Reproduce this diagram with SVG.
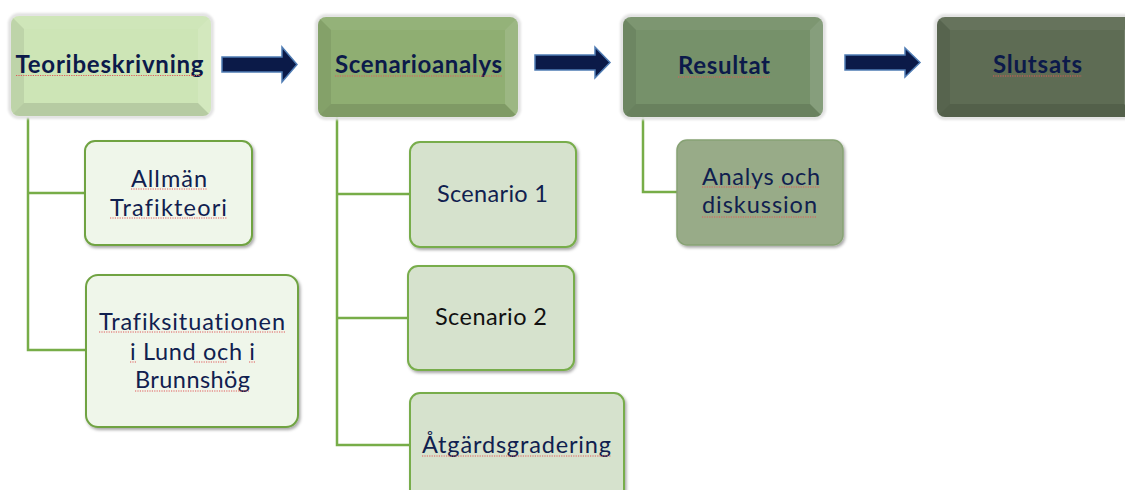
<svg xmlns="http://www.w3.org/2000/svg" xmlns:xlink="http://www.w3.org/1999/xlink" width="1125" height="490" viewBox="0 0 1125 490">
<style>
.t{font-family:Lato,"Liberation Sans",sans-serif;font-weight:bold;font-size:24px;fill:#0c1a4a;text-anchor:middle;font-variant-ligatures:none}
.c{font-family:Lato,"Liberation Sans",sans-serif;font-size:23.5px;fill:#10204f;text-anchor:middle;font-variant-ligatures:none}
.blk{fill:#111}
.conn{fill:none;stroke:#77ad48;stroke-width:2.5}
.arrow{fill:#0b1a48;stroke:#4f7cb4;stroke-width:1.5}
.sq{fill:none;stroke:#e05a5a;stroke-width:1.2;stroke-dasharray:1.2 1.2}
.b1{fill:#eff6ea;stroke:#70a343;stroke-width:2}
.b2{fill:#d6e2cd;stroke:#78ad4c;stroke-width:2}
.b3{fill:#98ab88;stroke:#87a274;stroke-width:1.5}
</style>
<defs>
<filter id="sh" x="-10%" y="-10%" width="125%" height="130%">
<feDropShadow dx="1.5" dy="2" stdDeviation="1.5" flood-color="#000" flood-opacity="0.35"/>
</filter>
<filter id="gl" x="-10%" y="-10%" width="120%" height="130%">
<feGaussianBlur stdDeviation="1.2"/>
</filter>
<clipPath id="bclip"><rect width="200" height="100" rx="8"/></clipPath>
<symbol id="bevel" viewBox="0 0 200 100" width="200" height="100" overflow="visible">
<rect x="-1" y="-1" width="202" height="102" rx="9" fill="none" stroke="#e2e2e2" stroke-width="4" filter="url(#gl)"/>
<g clip-path="url(#bclip)">
<rect width="200" height="100"/>
<polygon points="0,0 13,13 13,87 0,100" fill="#000" opacity="0.07"/>
<polygon points="0,100 13,87 187,87 200,100" fill="#000" opacity="0.11"/>
<polygon points="0,0 200,0 187,13 13,13" fill="#fff" opacity="0.05"/>
<polygon points="200,0 200,100 187,87 187,13" fill="#fff" opacity="0.12"/>
</g>
</symbol>
</defs>
<rect width="1125" height="490" fill="#fff"/>

<g id="connectors">
<polyline class="conn" points="28,117 28,350 86,350"/>
<line class="conn" x1="28" y1="193" x2="85" y2="193"/>
<polyline class="conn" points="337,117 337,445 410,445"/>
<line class="conn" x1="337" y1="194" x2="410" y2="194"/>
<line class="conn" x1="337" y1="318" x2="408" y2="318"/>
<polyline class="conn" points="643,117 643,192 677,192"/>
<polygon class="arrow" points="222,57 282,57 282,47 297,64.5 282,82 282,72 222,72"/>
<polygon class="arrow" points="535,55 595,55 595,47 610,62.5 595,78 595,70 535,70"/>
<polygon class="arrow" points="845,55 905,55 905,48 920,62.5 905,77 905,70 845,70"/>
</g>

<g id="teoribeskrivning">
<use xlink:href="#bevel" href="#bevel" x="11" y="16" fill="#cde5b6"/>
<text class="t" x="109.5" y="73" textLength="188" lengthAdjust="spacing">Teoribeskrivning</text>
<path class="sq" d="M16,75.5H203"/>
</g>
<g id="scenarioanalys">
<use xlink:href="#bevel" href="#bevel" x="318" y="17" fill="#8fae72"/>
<text class="t" x="418.5" y="73" textLength="167" lengthAdjust="spacing">Scenarioanalys</text>
<path class="sq" d="M335,76H502"/>
</g>
<g id="resultat">
<use xlink:href="#bevel" href="#bevel" x="623" y="17" fill="#76916a"/>
<text class="t" x="724" y="74" textLength="92" lengthAdjust="spacing">Resultat</text>
<path class="sq" d="M678,77H770"/>
</g>
<g id="slutsats">
<use xlink:href="#bevel" href="#bevel" x="937" y="17" fill="#5e6c54"/>
<text class="t" x="1037.5" y="73" textLength="89" lengthAdjust="spacing">Slutsats</text>
<path class="sq" d="M993,76H1082"/>
</g>

<g id="allman">
<rect class="b1" x="85" y="141" width="167" height="104" rx="10" filter="url(#sh)"/>
<text class="c" x="169" y="187" textLength="76" lengthAdjust="spacing">Allmän</text>
<text class="c" x="168.5" y="216" textLength="117" lengthAdjust="spacing">Trafikteori</text>
<path class="sq" d="M131,189H207M110,218H227"/>
</g>
<g id="trafiksituationen">
<rect class="b1" x="86" y="275" width="212" height="152" rx="12" filter="url(#sh)"/>
<text class="c" x="192" y="330" textLength="186" lengthAdjust="spacing">Trafiksituationen</text>
<text class="c" x="192.5" y="360" textLength="125" lengthAdjust="spacing">i Lund och i</text>
<text class="c" x="192.5" y="388" textLength="115" lengthAdjust="spacing">Brunnshög</text>
<path class="sq" d="M99,332H285M130,362H137M194,362H227M249,362H255M135,391H250"/>
</g>
<g id="scenario1">
<rect class="b2" x="410" y="142" width="166" height="105" rx="10" filter="url(#sh)"/>
<text class="c" x="492.5" y="202" textLength="111" lengthAdjust="spacing">Scenario 1</text>
</g>
<g id="scenario2">
<rect class="b2" x="408" y="266" width="166" height="104" rx="10" filter="url(#sh)"/>
<text class="c blk" x="491" y="325" textLength="112" lengthAdjust="spacing">Scenario 2</text>
</g>
<g id="atgardsgradering">
<rect class="b2" x="410" y="393" width="214" height="120" rx="10" filter="url(#sh)"/>
<text class="c" x="516.5" y="453" textLength="189" lengthAdjust="spacing">Åtgärdsgradering</text>
<path class="sq" d="M422,456H611"/>
</g>
<g id="analys">
<rect class="b3" x="677" y="140" width="166" height="105" rx="10" filter="url(#sh)"/>
<text class="c" x="761" y="185" textLength="118" lengthAdjust="spacing">Analys och</text>
<text class="c" x="759.5" y="213" textLength="115" lengthAdjust="spacing">diskussion</text>
<path class="sq" d="M702,187H755M779,187H820M702,217H817"/>
</g>
</svg>
